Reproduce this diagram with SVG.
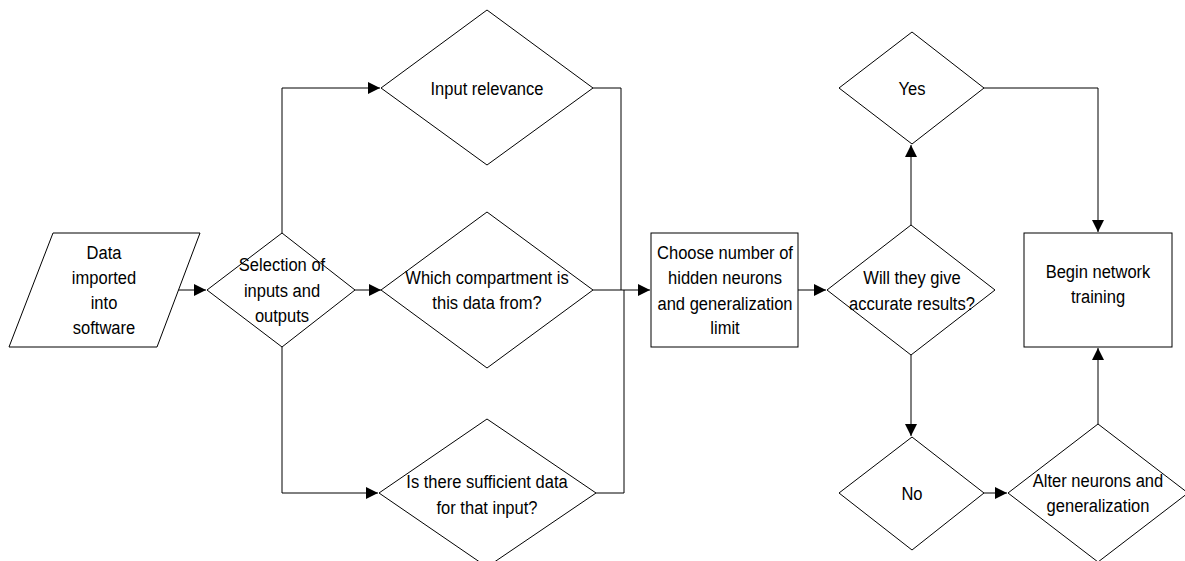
<svg xmlns="http://www.w3.org/2000/svg" width="1185" height="561" viewBox="0 0 1185 561">
<style>
.s{fill:#fff;stroke:#000;stroke-width:1}
.c{fill:none;stroke:#000;stroke-width:1}
text{font-family:"Liberation Sans",Arial,sans-serif;font-size:19px;fill:#000;text-anchor:middle}
</style>
<defs>
<marker id="a" markerUnits="userSpaceOnUse" markerWidth="13" markerHeight="13" refX="12" refY="6" orient="auto">
<path d="M0,0 L12,6 L0,12 z" fill="#000"/>
</marker>
</defs>
<rect width="1185" height="561" fill="#fff"/>
<g id="connectors">
<path class="c" d="M178,290 H206" marker-end="url(#a)"/>
<path class="c" d="M282,233 V88 H380" marker-end="url(#a)"/>
<path class="c" d="M355,290 H381" marker-end="url(#a)"/>
<path class="c" d="M282,347 V493 H378" marker-end="url(#a)"/>
<path class="c" d="M593,88 H621 V290"/>
<path class="c" d="M596,493 H624 V290"/>
<path class="c" d="M593,290 H650" marker-end="url(#a)"/>
<path class="c" d="M798,290 H826" marker-end="url(#a)"/>
<path class="c" d="M911,225 V145" marker-end="url(#a)"/>
<path class="c" d="M984,88 H1098 V232" marker-end="url(#a)"/>
<path class="c" d="M911,355 V436" marker-end="url(#a)"/>
<path class="c" d="M984,493 H1007" marker-end="url(#a)"/>
<path class="c" d="M1098,424 V348" marker-end="url(#a)"/>
</g>
<g id="data">
<polygon class="s" points="53,233 200,233 157,347 9,347"/>
<text transform="translate(104,259) scale(0.87,1)">Data</text>
<text transform="translate(104,284) scale(0.87,1)">imported</text>
<text transform="translate(104,309) scale(0.87,1)">into</text>
<text transform="translate(104,334) scale(0.87,1)">software</text>
</g>
<g id="selection">
<polygon class="s" points="282,233 355,290 282,347 207,290"/>
<text transform="translate(282,271) scale(0.87,1)">Selection of</text>
<text transform="translate(282,297) scale(0.87,1)">inputs and</text>
<text transform="translate(282,322) scale(0.87,1)">outputs</text>
</g>
<g id="relevance">
<polygon class="s" points="487,10 593,88 487,165 381,88"/>
<text transform="translate(487,95) scale(0.87,1)">Input relevance</text>
</g>
<g id="compartment">
<polygon class="s" points="487,212 593,290 487,368 381,290"/>
<text transform="translate(487,284) scale(0.87,1)">Which compartment is</text>
<text transform="translate(487,309) scale(0.87,1)">this data from?</text>
</g>
<g id="sufficient">
<polygon class="s" points="487,419 596,493 487,567 379,493"/>
<text transform="translate(487,488) scale(0.87,1)">Is there sufficient data</text>
<text transform="translate(487,514) scale(0.87,1)">for that input?</text>
</g>
<g id="choose">
<rect class="s" x="651" y="233" width="147" height="114"/>
<text transform="translate(725,259) scale(0.87,1)">Choose number of</text>
<text transform="translate(725,284) scale(0.87,1)">hidden neurons</text>
<text transform="translate(725,310) scale(0.87,1)">and generalization</text>
<text transform="translate(725,334) scale(0.87,1)">limit</text>
</g>
<g id="accurate">
<polygon class="s" points="911,225 995,290 911,355 827,290"/>
<text transform="translate(912,284) scale(0.87,1)">Will they give</text>
<text transform="translate(912,310) scale(0.87,1)">accurate results?</text>
</g>
<g id="yes">
<polygon class="s" points="912,32 984,88 912,144 839,88"/>
<text transform="translate(912,95) scale(0.87,1)">Yes</text>
</g>
<g id="no">
<polygon class="s" points="912,437 984,493 912,550 839,493"/>
<text transform="translate(912,500) scale(0.87,1)">No</text>
</g>
<g id="alter">
<polygon class="s" points="1098,424 1188,493 1098,562 1008,493"/>
<text transform="translate(1098,487) scale(0.87,1)">Alter neurons and</text>
<text transform="translate(1098,512) scale(0.87,1)">generalization</text>
</g>
<g id="training">
<rect class="s" x="1024" y="233" width="148" height="114"/>
<text transform="translate(1098,278) scale(0.87,1)">Begin network</text>
<text transform="translate(1098,303) scale(0.87,1)">training</text>
</g>
</svg>
